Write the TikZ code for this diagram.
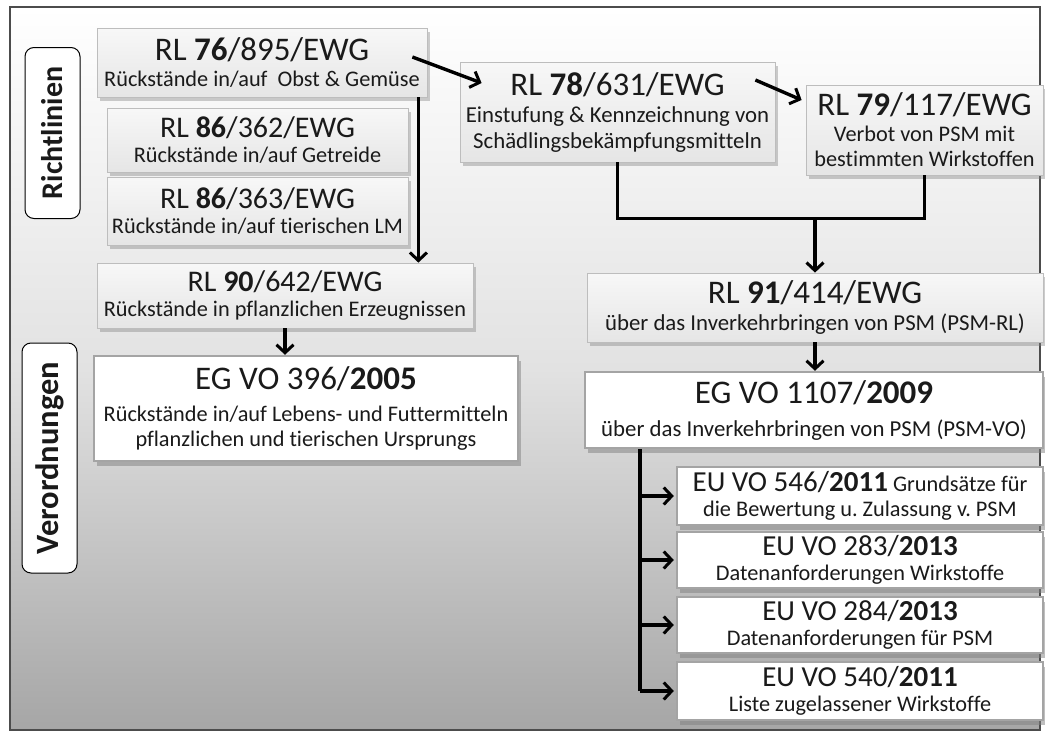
\documentclass[tikz,border=0pt]{standalone}
\usepackage{fontspec}
\setmainfont{Carlito}[Ligatures=NoCommon]
\usetikzlibrary{arrows.meta,shadows,calc}
\frenchspacing
\definecolor{txt}{HTML}{1A1A1A}
\definecolor{rlborder}{HTML}{BDBDBD}
\definecolor{voborder}{HTML}{A4A4A4}
\definecolor{bgbottom}{HTML}{A6A6A6}
\definecolor{bgmid}{HTML}{E2E2E2}
\newcommand\mytitle[1]{{\fontsize{33}{36}\selectfont #1}}
\newcommand\mytitleb[1]{{\fontsize{30}{33}\selectfont #1}}
\newcommand\mytitlec[1]{{\fontsize{29}{32}\selectfont #1}}
\newcommand\subA{\fontsize{22.3}{25.5}\selectfont}
\newcommand\subB{\fontsize{22.8}{26}\selectfont}
\tikzset{
  rlbox/.style={rectangle, top color=white!97!black, bottom color=white!90!black,
    draw=rlborder, line width=0.8pt, align=center, inner sep=0pt, text=txt,
    font=\subA,
    drop shadow={shadow xshift=2.5pt, shadow yshift=-4pt, opacity=0.4}},
  vobox/.style={rectangle, fill=white, draw=voborder, line width=2.4pt,
    align=center, inner sep=0pt, text=txt,
    font=\subA,
    drop shadow={shadow xshift=2.5pt, shadow yshift=-5pt, opacity=0.5}},
  labbox/.style={rectangle, rounded corners=9pt, draw=black, line width=1pt,
    fill=white, inner sep=0pt},
  labtext/.style={rotate=90, font=\bfseries\fontsize{30}{33}\selectfont, text=txt},
  conn/.style={line width=3.4pt, draw=black},
  arr/.style={conn, -{Straight Barb[length=8pt,width=17pt,line width=3pt]}},
}
\begin{document}
\begin{tikzpicture}[x=1pt,y=-1pt]
\useasboundingbox (0,0) rectangle (1045,734);
% background frame
\shade[top color=white, bottom color=bgbottom, middle color=bgmid] (10,7) rectangle (1040,730);
\draw[line width=1.4pt, draw=black!70] (10,7) rectangle (1040,730);

% section labels
\node[labbox, minimum width=55, minimum height=171] (lab1) at (52.5,133) {};
\node[labtext] (lab1t) at (lab1.center) {Richtlinien};
\node[labbox, minimum width=55, minimum height=230] (lab2) at (49.5,458) {};
\node[labtext, font=\bfseries\fontsize{32.5}{35}\selectfont] (lab2t) at (lab2.center) {Verordnungen};

% left column
\node[rlbox, minimum width=330, minimum height=69] (rl76) at (262,62.5)
  {\mytitle{RL \textbf{76}/895/EWG}\\Rückstände in/auf\ \ Obst \& Gemüse};
\node[rlbox, minimum width=301, minimum height=64] (rl86a) at (257.5,140)
  {\mytitleb{RL \textbf{86}/362/EWG}\\Rückstände in/auf Getreide};
\node[rlbox, minimum width=301, minimum height=68] (rl86b) at (257.5,211)
  {\mytitleb{RL \textbf{86}/363/EWG}\\Rückstände in/auf tierischen LM};
\node[rlbox, minimum width=376, minimum height=65] (rl90) at (285,295.5)
  {\mytitleb{RL \textbf{90}/642/EWG}\\Rückstände in pflanzlichen Erzeugnissen};
\node[vobox, minimum width=424, minimum height=105] (eg396) at (306,408.5)
  {\mytitle{EG VO 396/\textbf{2005}}\\[6pt]Rückstände in/auf Lebens- und Futtermitteln\\pflanzlichen und tierischen Ursprungs};

% right column
\node[rlbox, font=\subB, minimum width=315, minimum height=100] (rl78) at (617.5,112)
  {\mytitle{RL \textbf{78}/631/EWG}\\[1pt]Einstufung \& Kennzeichnung von\\Schädlingsbekämpfungsmitteln};
\node[rlbox, minimum width=237, minimum height=90] (rl79) at (924.5,130)
  {\mytitle{RL \textbf{79}/117/EWG}\\Verbot von PSM mit\\bestimmten Wirkstoffen};
\node[rlbox, font=\subB, minimum width=456, minimum height=69] (rl91) at (815,307.5)
  {\mytitle{RL \textbf{91}/414/EWG}\\[1pt]über das Inverkehrbringen von PSM (PSM-RL)};
\node[vobox, font=\subB, minimum width=458, minimum height=76] (eg1107) at (814,410)
  {\mytitle{EG VO 1107/\textbf{2009}}\\[7pt]über das Inverkehrbringen von PSM (PSM-VO)};
\node[vobox, minimum width=366, minimum height=58] (eu546) at (860,496)
  {\mytitlec{EU VO 546/\textbf{2011}} Grundsätze für\\die Bewertung u. Zulassung v. PSM};
\node[vobox, minimum width=366, minimum height=56] (eu283) at (860,560)
  {\mytitlec{EU VO 283/\textbf{2013}}\\Datenanforderungen Wirkstoffe};
\node[vobox, minimum width=366, minimum height=56] (eu284) at (860,625)
  {\mytitlec{EU VO 284/\textbf{2013}}\\Datenanforderungen für PSM};
\node[vobox, minimum width=366, minimum height=58] (eu540) at (860,691)
  {\mytitlec{EU VO 540/\textbf{2011}}\\Liste zugelassener Wirkstoffe};

% connectors
\draw[arr] ([xshift=-15pt,yshift=5.5pt]rl76.east) -- ([xshift=22pt,yshift=29pt]rl78.west);
\draw[arr] ([xshift=-20pt,yshift=32pt]rl78.east) -- ([xshift=-4pt,yshift=30pt]rl79.west);
\coordinate (d76) at ([xshift=-9pt]rl76.south east);
\draw[arr] (d76) -- (d76 |- rl90.north);
\draw[arr] (rl90.south) -- (rl90.south |- eg396.north);
\coordinate (j) at ($(rl91.north)+(0,-54)$);
\draw[conn] (rl78.south) |- (j) -| (rl79.south);
\draw[arr] (j) -- (rl91.north);
\draw[arr] (rl91.south) -- (rl91.south |- eg1107.north);
\coordinate (t) at ([xshift=56pt]eg1107.south west);
\draw[conn] (t) -- (t |- eu540.west);
\draw[arr] (t |- eu546.west) -- ([xshift=-2pt]eu546.west);
\draw[arr] (t |- eu283.west) -- ([xshift=-2pt]eu283.west);
\draw[arr] (t |- eu284.west) -- ([xshift=-2pt]eu284.west);
\draw[arr] (t |- eu540.west) -- ([xshift=-2pt]eu540.west);
\end{tikzpicture}
\end{document}
